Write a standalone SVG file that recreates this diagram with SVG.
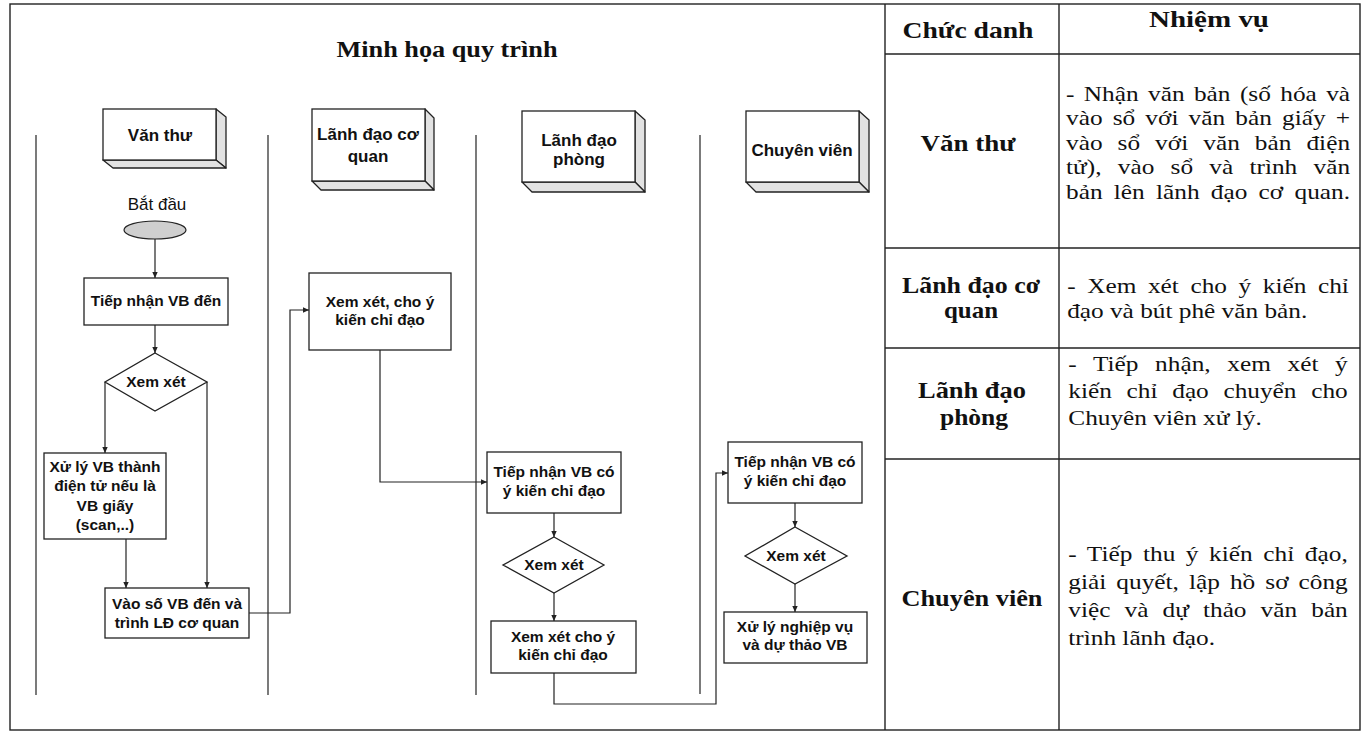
<svg xmlns="http://www.w3.org/2000/svg" width="1365" height="732" viewBox="0 0 1365 732">
<style>
.frame{fill:none;stroke:#222;stroke-width:1.4}
.lane{stroke:#333;stroke-width:1.3}
.box{fill:#fff;stroke:#222;stroke-width:1.3}
.face{fill:#e2e2e2;stroke:#222;stroke-width:1.3;stroke-linejoin:round}
.conn{fill:none;stroke:#222;stroke-width:1.2}
.fl{font-family:"Liberation Sans",Arial,sans-serif;font-weight:bold;font-size:15.5px;fill:#111;text-anchor:middle}
.hd{font-family:"Liberation Sans",Arial,sans-serif;font-weight:bold;font-size:17px;fill:#111;text-anchor:middle}
.title{font-family:"Liberation Serif","Times New Roman",serif;font-weight:bold;font-size:24px;fill:#111;text-anchor:middle}
.tl{font-family:"Liberation Serif","Times New Roman",serif;font-weight:bold;font-size:23px;fill:#111;text-anchor:middle}
.tr{font-family:"Liberation Serif","Times New Roman",serif;font-size:22px;fill:#111}
</style>
<defs>
<marker id="ah" markerWidth="7" markerHeight="7" refX="6" refY="3.5" orient="auto" markerUnits="userSpaceOnUse">
<path d="M0,0.8 L6,3.5 L0,6.2 Z" fill="#222"/>
</marker>
</defs>
<rect width="1365" height="732" fill="#fff"/>

<!-- outer frame and table grid -->
<g id="frame">
<rect class="frame" x="10" y="4" width="1350" height="726"/>
<line class="frame" x1="885" y1="4" x2="885" y2="730"/>
<line class="frame" x1="1059" y1="4" x2="1059" y2="730"/>
<line class="frame" x1="885" y1="54" x2="1360" y2="54"/>
<line class="frame" x1="885" y1="248" x2="1360" y2="248"/>
<line class="frame" x1="885" y1="348" x2="1360" y2="348"/>
<line class="frame" x1="885" y1="459" x2="1360" y2="459"/>
</g>

<text id="title" class="title" x="447" y="57" textLength="221" lengthAdjust="spacingAndGlyphs">Minh họa quy trình</text>

<!-- swimlane separators -->
<g id="lanes">
<line class="lane" x1="36" y1="135" x2="36" y2="695"/>
<line class="lane" x1="268" y1="135" x2="268" y2="695"/>
<line class="lane" x1="476" y1="135" x2="476" y2="695"/>
<line class="lane" x1="700" y1="135" x2="700" y2="694"/>
</g>

<!-- lane headers (3D boxes) -->
<g id="hdr-vanthu">
<polygon class="face" points="216,109 226,117 226,168 216,160"/>
<polygon class="face" points="103,160 216,160 226,168 113,168"/>
<rect class="box" x="103" y="109" width="113" height="51"/>
<text class="hd" x="160" y="141">Văn thư</text>
</g>
<g id="hdr-ldcq">
<polygon class="face" points="425,109 434,118 434,190 425,181"/>
<polygon class="face" points="312,181 425,181 434,190 321,190"/>
<rect class="box" x="312" y="109" width="113" height="72"/>
<text class="hd" x="368" y="140">Lãnh đạo cơ</text>
<text class="hd" x="368" y="162">quan</text>
</g>
<g id="hdr-ldp">
<polygon class="face" points="635,111 645,120 645,192 635,182"/>
<polygon class="face" points="522,182 635,182 645,192 532,192"/>
<rect class="box" x="522" y="111" width="113" height="71"/>
<text class="hd" x="579" y="146">Lãnh đạo</text>
<text class="hd" x="579" y="165">phòng</text>
</g>
<g id="hdr-cv">
<polygon class="face" points="859,111 869,120 869,192 859,182"/>
<polygon class="face" points="746,182 859,182 869,192 756,192"/>
<rect class="box" x="746" y="111" width="113" height="71"/>
<text class="hd" x="802" y="156">Chuyên viên</text>
</g>

<!-- connectors -->
<g id="connectors">
<path class="conn" d="M155,239 V278" marker-end="url(#ah)"/>
<path class="conn" d="M155,325 V353" marker-end="url(#ah)"/>
<path class="conn" d="M105,382 V453" marker-end="url(#ah)"/>
<path class="conn" d="M207,382 V588" marker-end="url(#ah)"/>
<path class="conn" d="M126,539 V588" marker-end="url(#ah)"/>
<path class="conn" d="M249,613 H290 V310 H309" marker-end="url(#ah)"/>
<path class="conn" d="M380,350 V482 H487" marker-end="url(#ah)"/>
<path class="conn" d="M554,513 V537" marker-end="url(#ah)"/>
<path class="conn" d="M554,593 V621" marker-end="url(#ah)"/>
<path class="conn" d="M554,673 V704 H716 V473 H728" marker-end="url(#ah)"/>
<path class="conn" d="M795,503 V527" marker-end="url(#ah)"/>
<path class="conn" d="M795,584 V612" marker-end="url(#ah)"/>
</g>

<!-- Văn thư lane -->
<g id="start">
<text x="157" y="210" style="font-family:'Liberation Sans',Arial,sans-serif;font-size:17px;fill:#111;text-anchor:middle">Bắt đầu</text>
<ellipse cx="155" cy="230" rx="31" ry="9" fill="#cfcfcf" stroke="#222" stroke-width="1.2"/>
</g>
<g id="n-tiepnhan">
<rect class="box" x="84" y="278" width="144" height="47"/>
<text class="fl" x="156" y="306">Tiếp nhận VB đến</text>
</g>
<g id="d-xemxet1">
<polygon class="box" points="155,353 207,382 155,411 105,382"/>
<text class="fl" x="156" y="387">Xem xét</text>
</g>
<g id="n-xuly">
<rect class="box" x="44" y="453" width="122" height="86"/>
<text class="fl" x="105" y="472">Xử lý VB thành</text>
<text class="fl" x="105" y="491">điện tử nếu là</text>
<text class="fl" x="105" y="511">VB giấy</text>
<text class="fl" x="105" y="530">(scan,..)</text>
</g>
<g id="n-vaoso">
<rect class="box" x="105" y="588" width="144" height="50"/>
<text class="fl" x="177" y="609">Vào số VB đến và</text>
<text class="fl" x="177" y="628">trình LĐ cơ quan</text>
</g>

<!-- Lãnh đạo cơ quan lane -->
<g id="n-ldcq">
<rect class="box" x="309" y="273" width="142" height="77"/>
<text class="fl" x="380" y="307">Xem xét, cho ý</text>
<text class="fl" x="380" y="325">kiến chỉ đạo</text>
</g>

<!-- Lãnh đạo phòng lane -->
<g id="n-ldp-tiepnhan">
<rect class="box" x="487" y="452" width="134" height="61"/>
<text class="fl" x="554" y="477">Tiếp nhận VB có</text>
<text class="fl" x="554" y="496">ý kiến chỉ đạo</text>
</g>
<g id="d-xemxet2">
<polygon class="box" points="554,537 604,565 554,593 503,565"/>
<text class="fl" x="554" y="570">Xem xét</text>
</g>
<g id="n-ldp-xemxet">
<rect class="box" x="491" y="621" width="145" height="52"/>
<text class="fl" x="563" y="642">Xem xét cho ý</text>
<text class="fl" x="563" y="660">kiến chỉ đạo</text>
</g>

<!-- Chuyên viên lane -->
<g id="n-cv-tiepnhan">
<rect class="box" x="728" y="442" width="134" height="61"/>
<text class="fl" x="795" y="467">Tiếp nhận VB có</text>
<text class="fl" x="795" y="486">ý kiến chỉ đạo</text>
</g>
<g id="d-xemxet3">
<polygon class="box" points="795,527 847,556 795,584 745,556"/>
<text class="fl" x="796" y="561">Xem xét</text>
</g>
<g id="n-cv-xuly">
<rect class="box" x="724" y="612" width="143" height="51"/>
<text class="fl" x="795" y="632">Xử lý nghiệp vụ</text>
<text class="fl" x="795" y="650">và dự thảo VB</text>
</g>

<!-- table: left column -->
<g id="table-left">
<text class="tl" x="968" y="38" textLength="131" lengthAdjust="spacingAndGlyphs">Chức danh</text>
<text class="tl" x="1209" y="27" textLength="120" lengthAdjust="spacingAndGlyphs">Nhiệm vụ</text>
<text class="tl" x="968" y="151" textLength="95" lengthAdjust="spacingAndGlyphs">Văn thư</text>
<text class="tl" x="971" y="293" textLength="138" lengthAdjust="spacingAndGlyphs">Lãnh đạo cơ</text>
<text class="tl" x="971" y="318" textLength="54" lengthAdjust="spacingAndGlyphs">quan</text>
<text class="tl" x="972" y="398" textLength="108" lengthAdjust="spacingAndGlyphs">Lãnh đạo</text>
<text class="tl" x="974" y="425" textLength="68" lengthAdjust="spacingAndGlyphs">phòng</text>
<text class="tl" x="972" y="606" textLength="141" lengthAdjust="spacingAndGlyphs">Chuyên viên</text>
</g>

<!-- table: right column (justified) -->
<g id="table-right" transform="matrix(1.15 0 0 1 -159.9 0)">
<text class="tr" x="1066" y="101" word-spacing="2.7" textLength="247" lengthAdjust="spacing">- Nhận văn bản (số hóa và</text>
<text class="tr" x="1066" y="125.5" word-spacing="3.2" textLength="247" lengthAdjust="spacing">vào sổ với văn bản giấy +</text>
<text class="tr" x="1066" y="150" word-spacing="7.5" textLength="247" lengthAdjust="spacing">vào sổ với văn bản điện</text>
<text class="tr" x="1066" y="174.5" word-spacing="8.6" textLength="247" lengthAdjust="spacing">tử), vào sổ và trình văn</text>
<text class="tr" x="1066" y="199" word-spacing="4.2" textLength="247" lengthAdjust="spacing">bản lên lãnh đạo cơ quan.</text>
<text class="tr" x="1067" y="293" word-spacing="4.5" textLength="245" lengthAdjust="spacing">- Xem xét cho ý kiến chỉ</text>
<text class="tr" x="1067" y="318">đạo và bút phê văn bản.</text>
<text class="tr" x="1068" y="371" word-spacing="8.9" textLength="243" lengthAdjust="spacing">- Tiếp nhận, xem xét ý</text>
<text class="tr" x="1068" y="398" word-spacing="7.4" textLength="243" lengthAdjust="spacing">kiến chỉ đạo chuyển cho</text>
<text class="tr" x="1068" y="425">Chuyên viên xử lý.</text>
<text class="tr" x="1068" y="561" word-spacing="3.6" textLength="243" lengthAdjust="spacing">- Tiếp thu ý kiến chỉ đạo,</text>
<text class="tr" x="1068" y="589" word-spacing="3.2" textLength="243" lengthAdjust="spacing">giải quyết, lập hồ sơ công</text>
<text class="tr" x="1068" y="617" word-spacing="6.8" textLength="243" lengthAdjust="spacing">việc và dự thảo văn bản</text>
<text class="tr" x="1068" y="645">trình lãnh đạo.</text>
</g>
</svg>
